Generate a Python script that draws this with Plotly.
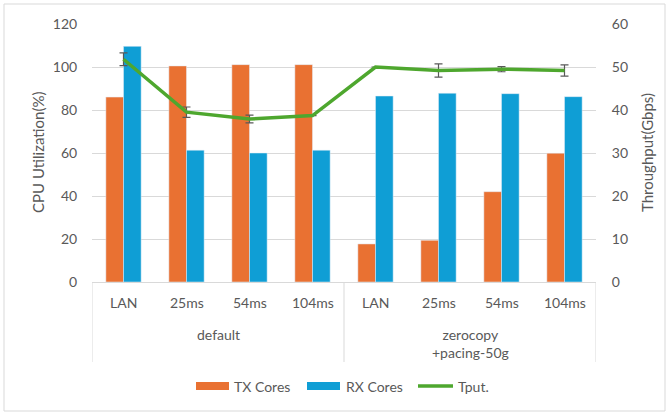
import plotly.graph_objects as go

# ---- data ----
groups = ["default", "zerocopy<br>+pacing-50g"]
rtts = ["LAN", "25ms", "54ms", "104ms"]
tx_cores = [86.0, 100.5, 101.1, 101.1, 17.7, 19.4, 42.0, 59.9]
rx_cores = [109.6, 61.3, 60.0, 61.3, 86.5, 87.8, 87.6, 86.2]
tput = [51.8, 39.5, 37.9, 38.7, 50.0, 49.2, 49.5, 49.2]
tput_err = [1.5, 1.2, 0.9, 0.0, 0.0, 1.55, 0.6, 1.3]

labels = [r for _ in groups for r in rtts]
x = list(range(len(labels)))

FONT = "Lato"
TXT = "#595959"
GRID = "#d9d9d9"
ORANGE = "#E97132"
BLUE = "#0F9ED5"
GREEN = "#4EA72E"

fig = go.Figure()
fig.add_trace(go.Bar(x=x, y=tx_cores, name="TX Cores", marker_color=ORANGE,
                     showlegend=False))
fig.add_trace(go.Bar(x=x, y=rx_cores, name="RX Cores", marker_color=BLUE,
                     showlegend=False))
fig.add_trace(go.Scatter(
    x=x, y=tput, name="Tput.", mode="lines", yaxis="y2",
    line=dict(color=GREEN, width=3.5), showlegend=False,
    error_y=dict(type="data", array=tput_err, visible=True,
                 color="#595959", thickness=1.2, width=4),
))

# paper-coordinate helpers for the 668x413 canvas
L, R, T, B = 92, 596, 24, 282
def px(v):
    return (v - L) / (R - L)
def py(v):
    return (B - v) / (B - T)

shapes = []
annotations = []

# sub-category labels
for xi, lab in zip(x, labels):
    annotations.append(dict(x=xi, y=py(302.5), xref="x", yref="paper", text=lab,
                            showarrow=False, xanchor="center", yanchor="middle",
                            font=dict(family=FONT, size=14, color=TXT)))
# group labels and dividers
n = len(rtts)
for gi, g in enumerate(groups):
    centre = sum(x[gi * n:(gi + 1) * n]) / n
    annotations.append(dict(x=centre, y=py(323.5), xref="x", yref="paper", text=g,
                            showarrow=False, xanchor="center", yanchor="top",
                            font=dict(family=FONT, size=14, color=TXT)))
for d in [-0.5 + k * n for k in range(len(groups) + 1)]:
    shapes.append(dict(type="line", xref="x", yref="paper", x0=d, x1=d,
                       y0=0, y1=py(362), line=dict(color=GRID, width=1)))

# axis titles
annotations.append(dict(x=px(38), y=0.5, xref="paper", yref="paper",
                        text="CPU Utilization(%)", textangle=-90, showarrow=False,
                        xanchor="center", yanchor="middle",
                        font=dict(family=FONT, size=15, color=TXT)))
annotations.append(dict(x=px(647), y=0.5, xref="paper", yref="paper",
                        text="Throughput(Gbps)", textangle=-90, showarrow=False,
                        xanchor="center", yanchor="middle",
                        font=dict(family=FONT, size=15, color=TXT)))

# legend
leg_y = py(386)
shapes.append(dict(type="rect", xref="paper", yref="paper", x0=px(196), x1=px(229),
                   y0=py(382), y1=py(390), fillcolor=ORANGE, line=dict(width=0)))
shapes.append(dict(type="rect", xref="paper", yref="paper", x0=px(307), x1=px(340),
                   y0=py(382), y1=py(390), fillcolor=BLUE, line=dict(width=0)))
shapes.append(dict(type="line", xref="paper", yref="paper", x0=px(418), x1=px(453),
                   y0=leg_y, y1=leg_y, line=dict(color=GREEN, width=3.5)))
for xx, t in [(232, "TX Cores"), (344, "RX Cores"), (456, "Tput.")]:
    annotations.append(dict(x=px(xx), y=leg_y, xref="paper", yref="paper", text=t,
                            showarrow=False, xanchor="left", yanchor="middle",
                            font=dict(family=FONT, size=14, color=TXT)))

# outer chart border
shapes.append(dict(type="rect", xref="paper", yref="paper", x0=px(4), x1=px(665),
                   y0=py(411), y1=py(4), line=dict(color=GRID, width=1),
                   fillcolor="rgba(0,0,0,0)", layer="below"))

fig.update_layout(
    width=668, height=413,
    margin=dict(l=L, r=668 - R, t=T, b=413 - B),
    paper_bgcolor="white", plot_bgcolor="white",
    barmode="group", bargap=0.44, bargroupgap=0,
    font=dict(family=FONT, size=14, color=TXT),
    xaxis=dict(range=[-0.5, len(x) - 0.5], showticklabels=False, ticks="",
               showgrid=False, zeroline=False, showline=True,
               linecolor=GRID, linewidth=1),
    yaxis=dict(range=[0, 120], dtick=20, showgrid=True, gridcolor=GRID,
               gridwidth=1, zeroline=False, ticks="outside", ticklen=11,
               tickcolor="rgba(0,0,0,0)", tickfont=dict(family=FONT, size=14, color=TXT)),
    yaxis2=dict(range=[0, 60], dtick=10, overlaying="y", side="right",
                showgrid=False, zeroline=False, ticks="outside", ticklen=12,
                tickcolor="rgba(0,0,0,0)", tickfont=dict(family=FONT, size=14, color=TXT)),
    shapes=shapes, annotations=annotations,
)

fig.write_html("out.html")
